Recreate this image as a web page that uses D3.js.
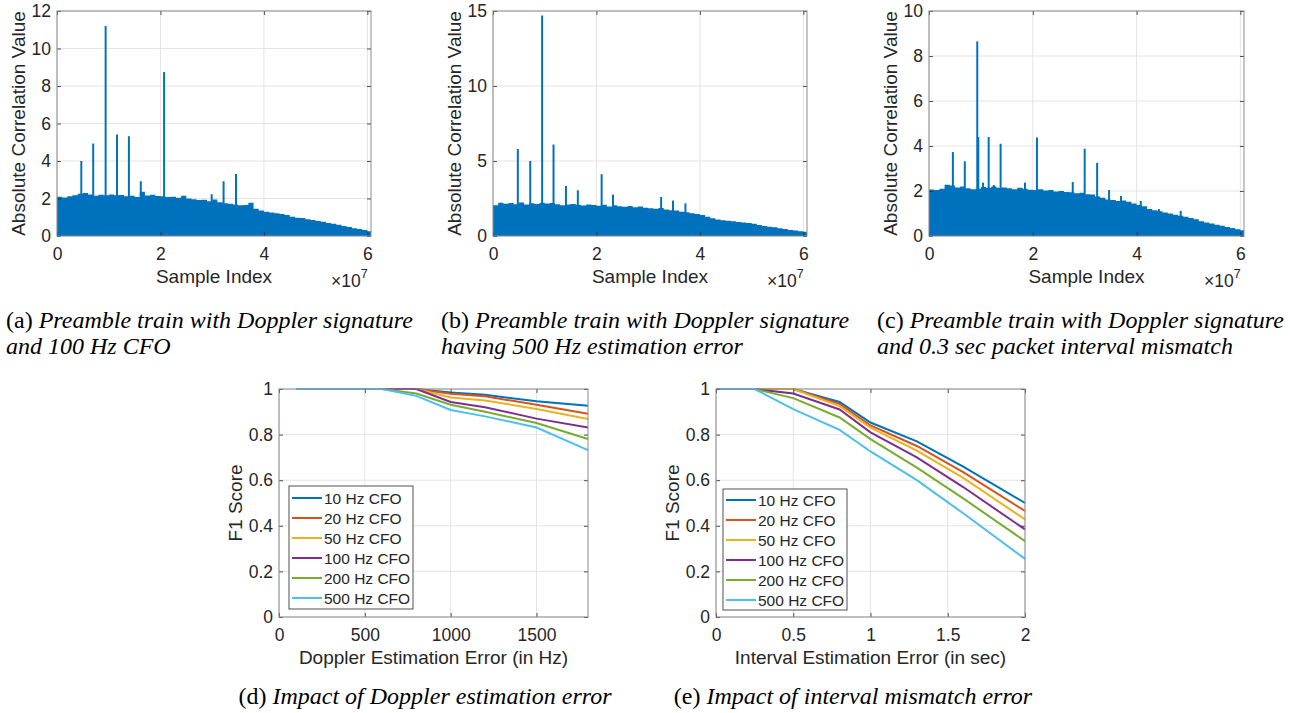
<!DOCTYPE html>
<html>
<head>
<meta charset="utf-8">
<script src="https://cdn.jsdelivr.net/npm/d3@7"></script>
<style>
  body { margin: 0; background: #fff; }
  svg text { font-family: "Liberation Sans", Arial, sans-serif; fill: #262626; }
  .cap { font-family: "Liberation Serif", "Times New Roman", serif; font-size: 24px; fill: #000; }
</style>
</head>
<body>
<svg id="fig" width="1290" height="713"></svg>
<script>
// ---- correlation traces (sample index in units of 1e7) ----
const envStep = 0.1; // envelope read every 0.1 x 1e7 samples
const envA = [2.10,2.05,2.12,2.18,2.25,2.30,2.22,2.15,2.20,2.18,
  2.22,2.17,2.19,2.12,2.15,2.08,2.36,2.16,2.20,2.14,
  2.12,2.08,2.10,2.04,2.15,2.00,1.96,1.92,1.94,1.85,
  1.95,1.80,1.75,1.72,1.68,1.64,1.66,1.78,1.45,1.36,
  1.30,1.25,1.22,1.18,1.12,1.03,0.98,0.96,0.90,0.85,
  0.80,0.76,0.70,0.66,0.60,0.54,0.48,0.42,0.38,0.32,0.26];
const envB = [2.05,2.22,2.15,2.20,2.12,2.24,2.10,2.18,2.14,2.22,
  2.16,2.20,2.12,2.05,2.10,2.14,2.08,2.04,2.10,2.06,
  2.02,2.08,1.96,2.05,1.98,1.95,2.00,1.92,1.96,1.88,
  1.85,1.82,1.86,1.76,1.72,1.70,1.62,1.58,1.52,1.46,
  1.40,1.28,1.18,1.10,1.05,1.02,0.98,0.94,0.90,0.86,
  0.82,0.74,0.66,0.62,0.58,0.52,0.46,0.40,0.36,0.32,0.28];
const envC = [2.07,2.04,2.10,2.28,2.24,2.16,2.20,2.12,2.08,2.10,
  2.18,2.15,2.20,2.14,2.16,2.12,2.08,2.14,2.10,2.06,
  2.04,2.08,2.02,2.05,1.98,2.00,1.96,1.94,1.90,1.92,
  1.86,1.84,1.76,1.70,1.62,1.60,1.56,1.58,1.52,1.44,
  1.38,1.32,1.20,1.14,1.10,1.04,1.00,0.94,0.90,0.86,
  0.80,0.74,0.66,0.60,0.56,0.50,0.46,0.40,0.36,0.30,0.26];

const spikeAPos = [0.47,0.70,0.94,1.16,1.39,1.62,2.07,2.99,3.22,3.46];
const spikeAVal = [4.0,4.93,11.2,5.41,5.32,2.92,8.74,2.23,2.92,3.31];
const spikeBPos = [0.48,0.72,0.95,1.17,1.41,1.64,2.10,2.32,3.25,3.48,3.72];
const spikeBVal = [5.8,5.0,14.7,6.1,3.34,3.05,4.12,2.76,2.6,2.36,2.18];
const spikeCPos = [0.46,0.69,0.93,0.95,1.04,1.15,1.25,1.38,1.85,2.08,2.77,3.0,3.24,3.47,3.7,4.08,4.43,4.85];
const spikeCVal = [3.73,3.32,8.65,4.4,2.37,4.4,2.27,4.1,2.37,4.38,2.4,3.88,3.25,2.04,1.78,1.56,1.2,1.12];

const sampleTicks = [0, 2, 4, 6];
const corrTicksA = [0, 2, 4, 6, 8, 10, 12];
const corrTicksB = [0, 5, 10, 15];
const corrTicksC = [0, 2, 4, 6, 8, 10];

// ---- F1 score curves ----
const cfoLabels = ["10 Hz CFO", "20 Hz CFO", "50 Hz CFO", "100 Hz CFO", "200 Hz CFO", "500 Hz CFO"];
const dopplerErr = [100, 600, 800, 1000, 1200, 1500, 1800];
const f1Doppler = [
  [1, 1, 1, 0.985, 0.975, 0.946, 0.927],
  [1, 1, 1, 0.979, 0.968, 0.931, 0.891],
  [1, 1, 1, 0.963, 0.950, 0.912, 0.868],
  [1, 1, 1, 0.943, 0.920, 0.870, 0.831],
  [1, 1, 0.980, 0.931, 0.900, 0.851, 0.781],
  [1, 1, 0.970, 0.908, 0.880, 0.831, 0.732]
];
const intervalErr = [0, 0.25, 0.5, 0.8, 1, 1.3, 1.6, 2];
const f1Interval = [
  [1, 1, 1, 0.943, 0.853, 0.770, 0.660, 0.500],
  [1, 1, 1, 0.935, 0.840, 0.750, 0.635, 0.465],
  [1, 1, 1, 0.925, 0.830, 0.730, 0.610, 0.428],
  [1, 1, 0.980, 0.910, 0.810, 0.700, 0.570, 0.384],
  [1, 1, 0.960, 0.875, 0.780, 0.655, 0.520, 0.333],
  [1, 1, 0.912, 0.821, 0.726, 0.600, 0.455, 0.255]
];
const f1Ticks = [0, 0.2, 0.4, 0.6, 0.8, 1];
const dopplerTicks = [0, 500, 1000, 1500];
const intervalTicks = [0, 0.5, 1, 1.5, 2];

const barBlue = "#0072BD";
const cfoColors = ["#0072BD", "#D95319", "#EDB120", "#7E2F8E", "#77AC30", "#4DBEEE"];
const gridColor = "#e4e4e4";
const axisColor = "#262626";

const fig = d3.select("#fig");

function grid(g, x, y, xt, yt) {
  const [xa, xb] = x.range(), [ya, yb] = y.range();
  g.append("g").selectAll("line").data(xt).join("line")
    .attr("x1", d => x(d)).attr("x2", d => x(d)).attr("y1", ya).attr("y2", yb)
    .attr("stroke", gridColor);
  g.append("g").selectAll("line").data(yt).join("line")
    .attr("y1", d => y(d)).attr("y2", d => y(d)).attr("x1", xa).attr("x2", xb)
    .attr("stroke", gridColor);
}

function axes(g, x, y, xt, yt, fx, fy) {
  const [xa, xb] = x.range(), [ya, yb] = y.range();
  const style = s => {
    s.attr("font-size", 17.5).attr("font-family", null);
    s.select(".domain").remove();
    s.selectAll(".tick line").attr("stroke", axisColor).attr("stroke-width", 0.8);
  };
  g.append("g").attr("transform", `translate(0,${ya})`)
    .call(d3.axisBottom(x).tickValues(xt).tickFormat(fx).tickSizeInner(-4).tickSizeOuter(0).tickPadding(12)).call(style);
  g.append("g").attr("transform", `translate(${xa},0)`)
    .call(d3.axisLeft(y).tickValues(yt).tickFormat(fy).tickSizeInner(-4).tickSizeOuter(0).tickPadding(6)).call(style);
  g.append("g").attr("transform", `translate(0,${yb})`)
    .call(d3.axisTop(x).tickValues(xt).tickFormat("").tickSizeInner(-4).tickSizeOuter(0)).call(style);
  g.append("g").attr("transform", `translate(${xb},0)`)
    .call(d3.axisRight(y).tickValues(yt).tickFormat("").tickSizeInner(-4).tickSizeOuter(0)).call(style);
  g.append("rect").attr("x", xa).attr("y", yb).attr("width", xb - xa).attr("height", ya - yb)
    .attr("fill", "none").attr("stroke", "#8a8a8a").attr("stroke-width", 1);
}

function caption(x, y, tag, lines, anchor) {
  lines.forEach((ln, i) => {
    const t = fig.append("text").attr("class", "cap").attr("x", x).attr("y", y + i * 26)
      .attr("text-anchor", anchor || "start");
    if (i === 0) t.append("tspan").text(tag + " ");
    t.append("tspan").attr("font-style", "italic").text(ln);
  });
}

// ---- top row ----
const topCharts = [
  { id: "a", left: 57, right: 371, env: envA, sp: spikeAPos, sv: spikeAVal, yMax: 12, yt: corrTicksA,
    capX: 6, cap: ["Preamble train with Doppler signature", "and 100 Hz CFO"] },
  { id: "b", left: 493, right: 807, env: envB, sp: spikeBPos, sv: spikeBVal, yMax: 15, yt: corrTicksB,
    capX: 441, cap: ["Preamble train with Doppler signature", "having 500 Hz estimation error"] },
  { id: "c", left: 929, right: 1244, env: envC, sp: spikeCPos, sv: spikeCVal, yMax: 10, yt: corrTicksC,
    capX: 877, cap: ["Preamble train with Doppler signature", "and 0.3 sec packet interval mismatch"] }
];
const plotTop = 11, plotBottom = 236, xMaxSample = 6.07;

topCharts.forEach(c => {
  const g = fig.append("g");
  const x = d3.scaleLinear().domain([0, xMaxSample]).range([c.left, c.right]);
  const y = d3.scaleLinear().domain([0, c.yMax]).range([plotBottom, plotTop]);
  grid(g, x, y, sampleTicks, c.yt);

  const clipId = "clip" + c.id;
  g.append("clipPath").attr("id", clipId).append("rect")
    .attr("x", c.left).attr("y", plotTop).attr("width", c.right - c.left).attr("height", plotBottom - plotTop);
  const data = g.append("g").attr("clip-path", `url(#${clipId})`);

  const pts = c.env.map((v, i) => [i * envStep, v]);
  pts.push([xMaxSample, c.env[c.env.length - 1]]);
  const area = d3.area().curve(d3.curveStepAfter)
    .x(d => x(d[0])).y0(y(0)).y1(d => y(d[1]));
  data.append("path").datum(pts).attr("d", area).attr("fill", barBlue);

  data.selectAll("line.spike").data(c.sp).join("line").attr("class", "spike")
    .attr("x1", d => x(d)).attr("x2", d => x(d))
    .attr("y1", y(0)).attr("y2", (d, i) => y(c.sv[i]))
    .attr("stroke", barBlue).attr("stroke-width", 2);

  axes(g, x, y, sampleTicks, c.yt, d3.format("d"), d3.format("d"));

  g.append("text").attr("transform", `translate(${c.left - 32},${(plotTop + plotBottom) / 2}) rotate(-90)`)
    .attr("text-anchor", "middle").attr("font-size", 19).text("Absolute Correlation Value");
  g.append("text").attr("x", (c.left + c.right) / 2).attr("y", plotBottom + 47)
    .attr("text-anchor", "middle").attr("font-size", 19).text("Sample Index");
  const ex = g.append("text").attr("x", c.right - 40).attr("y", plotBottom + 51).attr("font-size", 17.5);
  ex.append("tspan").text("\u00d710");
  ex.append("tspan").attr("dy", -9).attr("font-size", 12.5).text("7");

  caption(c.capX, 328, `(${c.id})`, c.cap);
});

// ---- bottom row ----
const botCharts = [
  { id: "d", left: 279, right: 588, xs: dopplerErr, ys: f1Doppler, xMax: 1800, xt: dopplerTicks,
    xLabel: "Doppler Estimation Error (in Hz)", leg: { x: 289, y: 486, w: 124, h: 123, y0: 498 },
    capX: 425, cap: ["Impact of Doppler estimation error"] },
  { id: "e", left: 716, right: 1025, xs: intervalErr, ys: f1Interval, xMax: 2, xt: intervalTicks,
    xLabel: "Interval Estimation Error (in sec)", leg: { x: 723, y: 489, w: 124, h: 121, y0: 500 },
    capX: 853, cap: ["Impact of interval mismatch error"] }
];
const bTop = 389, bBottom = 617;

botCharts.forEach(c => {
  const g = fig.append("g");
  const x = d3.scaleLinear().domain([0, c.xMax]).range([c.left, c.right]);
  const y = d3.scaleLinear().domain([0, 1]).range([bBottom, bTop]);
  grid(g, x, y, c.xt, f1Ticks);

  const line = d3.line().x((d, i) => x(c.xs[i])).y(d => y(d));
  g.append("g").selectAll("path").data(c.ys).join("path")
    .attr("d", line).attr("fill", "none")
    .attr("stroke", (d, i) => cfoColors[i]).attr("stroke-width", 2);

  axes(g, x, y, c.xt, f1Ticks, d3.format("~g"), d3.format("~g"));

  g.append("text").attr("transform", `translate(${c.left - 37},${(bTop + bBottom) / 2}) rotate(-90)`)
    .attr("text-anchor", "middle").attr("font-size", 19).text("F1 Score");
  g.append("text").attr("x", (c.left + c.right) / 2).attr("y", bBottom + 47)
    .attr("text-anchor", "middle").attr("font-size", 19).text(c.xLabel);

  const L = c.leg;
  const lg = g.append("g");
  lg.append("rect").attr("x", L.x).attr("y", L.y).attr("width", L.w).attr("height", L.h)
    .attr("fill", "#fff").attr("stroke", axisColor).attr("stroke-width", 0.8);
  const items = lg.selectAll("g").data(cfoLabels).join("g")
    .attr("transform", (d, i) => `translate(${L.x},${L.y0 + i * 20})`);
  items.append("line").attr("x1", 3).attr("x2", 33)
    .attr("stroke", (d, i) => cfoColors[i]).attr("stroke-width", 2);
  items.append("text").attr("x", 35).attr("dy", "0.36em").attr("font-size", 15.5).text(d => d);

  caption(c.capX, 704, `(${c.id})`, c.cap, "middle");
});
</script>
</body>
</html>
